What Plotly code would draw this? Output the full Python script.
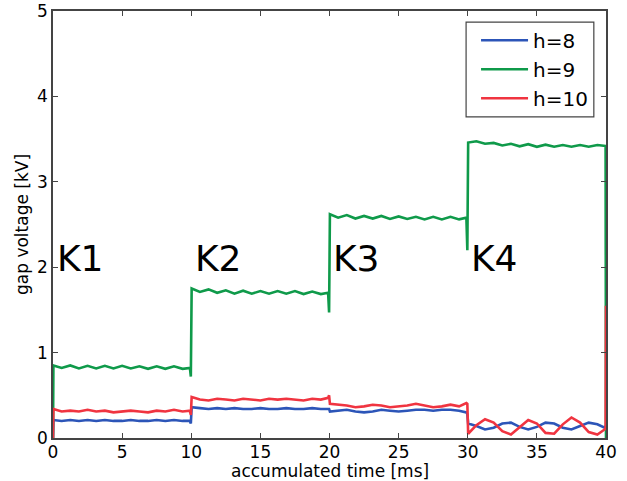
import plotly.graph_objects as go

# ---- data ----
OFFSETS = [0.03, 0.625, 1.25, 1.875, 2.5, 3.125, 3.75, 4.375, 5.0, 5.625,
           6.25, 6.875, 7.5, 8.125, 8.75, 9.375, 9.9, 9.97]
SEGMENT_STARTS = [0, 10, 20, 30]
TIME = [0.0] + [s + o for s in SEGMENT_STARTS for o in OFFSETS] + [40.0]

h8 = ([0.0]
      + [0.21, 0.20, 0.21, 0.20, 0.21, 0.20, 0.21, 0.20, 0.20, 0.21, 0.20, 0.20, 0.21, 0.20, 0.21, 0.20, 0.20, 0.17]
      + [0.36, 0.35, 0.34, 0.35, 0.34, 0.35, 0.34, 0.34, 0.35, 0.34, 0.34, 0.35, 0.34, 0.34, 0.35, 0.34, 0.34, 0.34]
      + [0.31, 0.32, 0.33, 0.31, 0.30, 0.31, 0.33, 0.32, 0.31, 0.32, 0.33, 0.33, 0.32, 0.33, 0.33, 0.32, 0.30, 0.28]
      + [0.17, 0.14, 0.10, 0.12, 0.17, 0.18, 0.13, 0.10, 0.13, 0.18, 0.17, 0.12, 0.10, 0.14, 0.18, 0.16, 0.12, 0.13]
      + [0.15])

h9 = ([0.0]
      + [0.85, 0.82, 0.85, 0.815, 0.845, 0.815, 0.845, 0.815, 0.845, 0.815, 0.84, 0.81, 0.84, 0.81, 0.84, 0.81, 0.82, 0.72]
      + [1.75, 1.71, 1.74, 1.70, 1.73, 1.69, 1.725, 1.69, 1.72, 1.69, 1.72, 1.69, 1.72, 1.685, 1.715, 1.685, 1.70, 1.47]
      + [2.62, 2.58, 2.61, 2.57, 2.60, 2.57, 2.60, 2.565, 2.595, 2.565, 2.59, 2.56, 2.59, 2.56, 2.59, 2.56, 2.58, 2.20]
      + [3.46, 3.475, 3.445, 3.455, 3.425, 3.445, 3.415, 3.44, 3.41, 3.435, 3.41, 3.43, 3.41, 3.43, 3.41, 3.43, 3.42, 3.42]
      + [0.0])

h10 = ([0.0]
       + [0.34, 0.31, 0.32, 0.31, 0.33, 0.31, 0.32, 0.30, 0.31, 0.32, 0.31, 0.30, 0.32, 0.31, 0.33, 0.31, 0.32, 0.27]
       + [0.48, 0.45, 0.44, 0.46, 0.45, 0.44, 0.46, 0.45, 0.44, 0.46, 0.45, 0.46, 0.45, 0.44, 0.46, 0.45, 0.47, 0.50]
       + [0.40, 0.39, 0.38, 0.36, 0.37, 0.39, 0.38, 0.36, 0.37, 0.38, 0.40, 0.38, 0.36, 0.37, 0.39, 0.37, 0.41, 0.40]
       + [0.05, 0.15, 0.22, 0.18, 0.08, 0.04, 0.12, 0.21, 0.17, 0.06, 0.05, 0.16, 0.24, 0.18, 0.07, 0.04, 0.10, 0.12]
       + [1.55])

SERIES = [("h=8", h8, "#2c55b8"), ("h=9", h9, "#0f9a4a"), ("h=10", h10, "#f03440")]

K_LABELS = ["K1", "K2", "K3", "K4"]
K_X = [0.15, 10.1, 20.1, 30.1]
K_Y = [2.1, 2.1, 2.1, 2.1]

X_TICKS = [0, 5, 10, 15, 20, 25, 30, 35, 40]
Y_TICKS = [0, 1, 2, 3, 4, 5]
X_TITLE = "accumulated time [ms]"
Y_TITLE = "gap voltage [kV]"

FONT = "DejaVu Sans"

fig = go.Figure()
for name, vals, col in SERIES:
    fig.add_trace(go.Scatter(x=TIME, y=vals, mode="lines", name=name, legendgroup=name,
                             line=dict(color=col, width=2.6)))

for lab, kx, ky in zip(K_LABELS, K_X, K_Y):
    fig.add_annotation(x=kx, y=ky, xref="x", yref="y", text=lab, showarrow=False,
                       xanchor="left", yanchor="middle",
                       font=dict(family=FONT, size=36, color="black"))

# x-axis title placed just under the tick labels (matplotlib-like tight spacing)
fig.add_annotation(x=0.5, y=-0.0765, xref="paper", yref="paper", text=X_TITLE,
                   showarrow=False, xanchor="center", yanchor="middle", borderpad=0,
                   font=dict(family=FONT, size=17, color="black"))

axis_common = dict(showgrid=False, zeroline=False, showline=True, linecolor="#444",
                   linewidth=1.5, mirror="ticks", ticks="inside", ticklen=5,
                   tickcolor="#444", tickwidth=1, automargin=False,
                   tickfont=dict(family=FONT, size=17, color="black"))

fig.update_xaxes(range=[0, 40], tickvals=X_TICKS, ticklabelstandoff=-2, **axis_common)
fig.update_yaxes(range=[0, 5], tickvals=Y_TICKS,
                 title=dict(text=Y_TITLE, standoff=4,
                            font=dict(family=FONT, size=17, color="black")),
                 **axis_common)

# legend frame (matplotlib-style box)
fig.add_shape(type="rect", xref="paper", yref="paper",
              x0=0.747, x1=0.978, y0=0.752, y1=0.974,
              line=dict(color="#444", width=1.2), fillcolor="white", layer="below")

fig.update_layout(
    width=627, height=481,
    margin=dict(l=53, r=21, t=11, b=43),
    plot_bgcolor="white", paper_bgcolor="white",
    font=dict(family=FONT, color="black"),
    legend=dict(x=0.765, y=0.977, xanchor="left", yanchor="top",
                borderwidth=0, bgcolor="rgba(0,0,0,0)",
                font=dict(family=FONT, size=20, color="black"),
                itemwidth=47, tracegroupgap=0),
)

fig.write_html("out.html")
